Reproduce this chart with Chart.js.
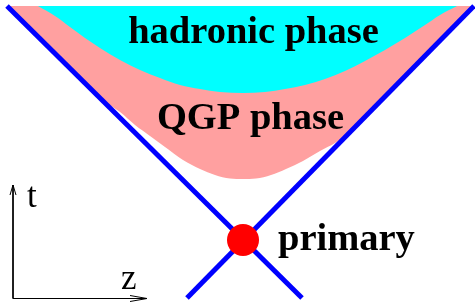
<!DOCTYPE html>
<html>
<head>
<meta charset="utf-8">
<script src="https://cdn.jsdelivr.net/npm/chart.js@4.4.0/dist/chart.umd.min.js"></script>
<style>
  html, body { margin: 0; padding: 0; background: #fff; }
  #wrap { width: 475px; height: 302px; position: relative; }
</style>
</head>
<body>
<div id="wrap"><canvas id="cone"></canvas></div>
<script>
// coordinates: z along the beam, t up, origin at the primary vertex
var hadronEdge = [
  {x: -205, y: 234}, {x: -188, y: 224}, {x: -173, y: 213}, {x: -158, y: 202},
  {x: -143, y: 192}, {x: -123, y: 180}, {x: -103, y: 170}, {x: -83, y: 162},
  {x: -63, y: 155}, {x: -43, y: 151}, {x: -23, y: 148}, {x: 0, y: 147},
  {x: 22, y: 148}, {x: 42, y: 151}, {x: 62, y: 155}, {x: 82, y: 161},
  {x: 102, y: 169}, {x: 122, y: 179}, {x: 142, y: 190}, {x: 162, y: 202},
  {x: 182, y: 215}, {x: 197, y: 225}, {x: 214, y: 234}
];

var qgpEdge = [
  {x: -236, y: 234}, {x: -188, y: 186}, {x: -139, y: 139},
  {x: -123, y: 128}, {x: -108, y: 115}, {x: -93, y: 104}, {x: -78, y: 93},
  {x: -60, y: 80}, {x: -43, y: 71}, {x: -28, y: 65}, {x: -13, y: 61.5},
  {x: 0, y: 61}, {x: 13, y: 61.5}, {x: 28, y: 65}, {x: 43, y: 71},
  {x: 60, y: 79}, {x: 77, y: 89}, {x: 92, y: 97}, {x: 109, y: 109},
  {x: 170, y: 171}, {x: 231, y: 234}
];

var lightConeLeft = [{x: -236, y: 234}, {x: 59, y: -58}];
var lightConeRight = [{x: 231, y: 234}, {x: -56, y: -58}];
var primaryPoint = [{x: 0, y: 0}];

var tAxis = [{x: -230, y: 55}, {x: -230, y: -58.5}, {x: -96, y: -58.5}];
var tArrow = [{x: -233, y: 45}, {x: -230, y: 55}, {x: -227, y: 45}];
var zArrow = [{x: -113, y: -55.5}, {x: -96, y: -58.5}, {x: -113, y: -61.5}];

var labels = [
  {text: 'hadronic phase', x: 10.5, y: 197, bold: true, align: 'center'},
  {text: 'QGP phase', x: 7.5, y: 111, bold: true, align: 'center'},
  {text: 'primary', x: 35, y: -10, bold: true, align: 'left'},
  {text: 't', x: -216, y: 33, bold: false, align: 'left'},
  {text: 'z', x: -122, y: -48.5, bold: false, align: 'left'}
];

var topEdge = 234;

var textPlugin = {
  id: 'phaseLabels',
  afterDatasetsDraw: function(chart) {
    var c = chart.ctx;
    var xs = chart.scales.x, ys = chart.scales.y;
    c.save();
    c.fillStyle = '#000';
    c.textBaseline = 'alphabetic';
    labels.forEach(function(l) {
      c.font = (l.bold ? 'bold 38.5px' : '35px') + ' "Liberation Serif", "DejaVu Serif", serif';
      c.textAlign = l.align;
      c.fillText(l.text, xs.getPixelForValue(l.x), ys.getPixelForValue(l.y));
    });
    c.restore();
  }
};

function thinLine(pts) {
  return {
    data: pts, showLine: true, borderColor: '#000', borderWidth: 1,
    pointRadius: 0, fill: false, tension: 0, order: 1
  };
}

new Chart(document.getElementById('cone'), {
  type: 'scatter',
  data: {
    datasets: [
      {
        data: primaryPoint, pointRadius: 16, pointHoverRadius: 16,
        backgroundColor: '#ff0000', borderColor: '#ff0000', borderWidth: 0, order: 0
      },
      {
        data: lightConeLeft, showLine: true, borderColor: '#0000ff', borderWidth: 5,
        pointRadius: 0, fill: false, borderCapStyle: 'butt', order: 1
      },
      {
        data: lightConeRight, showLine: true, borderColor: '#0000ff', borderWidth: 5,
        pointRadius: 0, fill: false, borderCapStyle: 'butt', order: 1
      },
      thinLine(tAxis),
      thinLine(tArrow),
      thinLine(zArrow),
      {
        data: hadronEdge, showLine: true, borderWidth: 0, borderColor: 'rgba(0,0,0,0)',
        backgroundColor: '#00ffff', pointRadius: 0, cubicInterpolationMode: 'monotone',
        fill: {value: topEdge}, order: 2
      },
      {
        data: qgpEdge, showLine: true, borderWidth: 0, borderColor: 'rgba(0,0,0,0)',
        backgroundColor: '#ffa0a0', pointRadius: 0, cubicInterpolationMode: 'monotone',
        fill: {value: topEdge}, order: 3
      }
    ]
  },
  options: {
    responsive: true,
    maintainAspectRatio: false,
    animation: false,
    layout: { padding: 0, autoPadding: false },
    plugins: { legend: { display: false }, tooltip: { enabled: false } },
    scales: {
      x: { type: 'linear', min: -243, max: 232, display: false },
      y: { type: 'linear', min: -62, max: 240, display: false }
    }
  },
  plugins: [textPlugin]
});
</script>
</body>
</html>
